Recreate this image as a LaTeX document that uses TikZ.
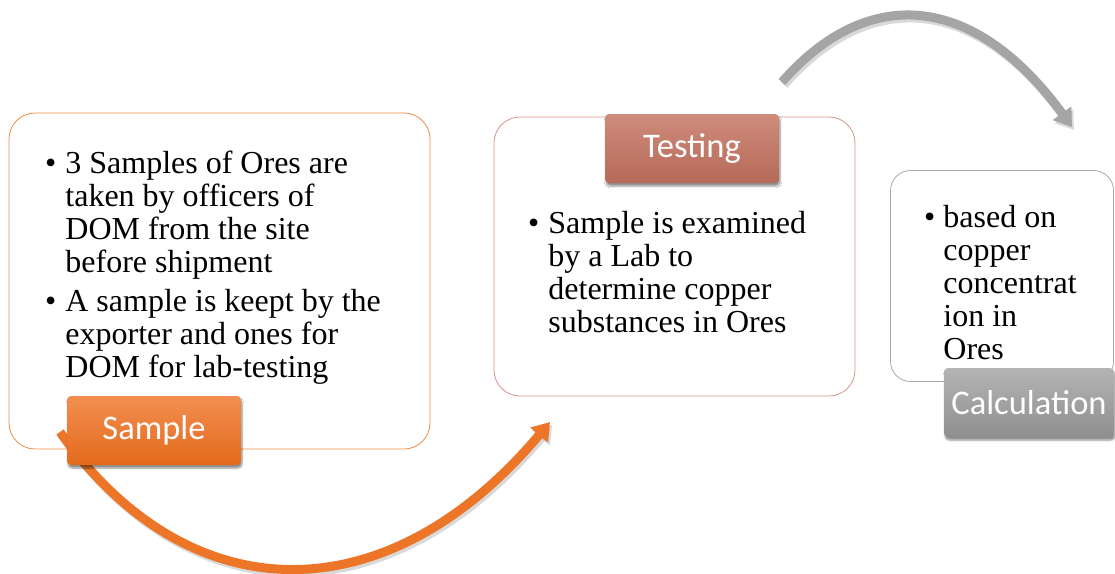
\documentclass[tikz,border=0pt]{standalone}
\usepackage{fontspec}
\setmainfont{Liberation Serif}
\newfontfamily\calibri{Carlito}
\usetikzlibrary{arrows.meta}
\usetikzlibrary{shadows.blur}
\definecolor{smplline}{HTML}{F08C45}
\definecolor{smpltop}{HTML}{F28E50}
\definecolor{smplbot}{HTML}{E46A1C}
\definecolor{tstline}{HTML}{D3978A}
\definecolor{tsttop}{HTML}{CE8B7B}
\definecolor{tstbot}{HTML}{B66A59}
\definecolor{calcline}{HTML}{A8A8A8}
\definecolor{calctop}{HTML}{B4B4B4}
\definecolor{calcbot}{HTML}{8F8F8F}
\definecolor{orangearc}{HTML}{EC7527}
\definecolor{grayarc}{HTML}{A5A5A5}
\tikzset{box/.style = {draw, fill = white, rounded corners = 26pt, line width = 0.8pt, inner sep = 0, outer sep = 0}}
\tikzset{lbl/.style = {rounded corners = 4pt, inner sep = 0, outer sep = 0, minimum height = 69pt, text = white, font = \calibri\fontsize{34.5}{40}\selectfont, blur shadow = {shadow xshift = 1pt, shadow yshift = -3pt, shadow blur steps = 6, shadow opacity = 45}}}
\tikzset{txt/.style = {anchor = base west, inner sep = 0, font = \fontsize{32}{33}\selectfont}}
\tikzset{arcarrow/.style = {line width = 9pt, -{Triangle[width = 22pt, length = 17pt]}}}
\tikzset{arcshadow/.style = {line width = 9pt, black, opacity = 0.15, -{Triangle[width = 22pt, length = 17pt]}}}

\begin{document}
\begin{tikzpicture}[x = 1pt, y = -1pt]

      \useasboundingbox (0, 0) rectangle (1115, 573);

      % boxes
      \node [box, draw = smplline, minimum width = 421pt, minimum height = 336pt] (smpl-box) at (219.5, 281) {};
      \node [box, draw = tstline, minimum width = 361pt, minimum height = 279pt] (tst-box) at (674.5, 256.5) {};
      \node [box, draw = calcline, rounded corners = 20pt, minimum width = 223pt, minimum height = 211pt] (calc-box) at (1002, 276) {};

      % arcs
      \coordinate (smpl-tail) at (60, 432);
      \coordinate (tst-head) at (550, 422);
      \coordinate (tst-tail) at (782, 82);
      \coordinate (calc-head) at (1072, 127);
      \draw [arcshadow, transform canvas = {shift = {(2pt, -3pt)}}] (smpl-tail) .. controls (190, 615) and (388, 615) .. (tst-head);
      \draw [arcarrow, orangearc] (smpl-tail) .. controls (190, 615) and (388, 615) .. (tst-head);
      \draw [arcshadow, transform canvas = {shift = {(2pt, -3pt)}}] (tst-tail) .. controls (866, -14) and (972, -10) .. (calc-head);
      \draw [arcarrow, grayarc] (tst-tail) .. controls (866, -14) and (972, -10) .. (calc-head);

      % labels
      \node [lbl, top color = smpltop, bottom color = smplbot, minimum width = 174pt] (smpl) at (154, 430.5) {Sample};
      \node [lbl, top color = tsttop, bottom color = tstbot, minimum width = 174pt] (tst) at (692, 148.5) {Testing};
      \node [lbl, top color = calctop, bottom color = calcbot, minimum width = 170pt] (calc) at (1029, 402.5) {Calculation};

      % texts
      \node [txt] (smpl-txt) at (45, 173) {\begin{tabular}[t]{@{}l@{\hspace{9pt}}l@{}}
        \textbullet & 3 Samples of Ores are\\
                    & taken by officers of\\
                    & DOM from the site\\
                    & before shipment\\[6pt]
        \textbullet & A sample is keept by the\\
                    & exporter and ones for\\
                    & DOM for lab-testing
      \end{tabular}};
      \node [txt] (tst-txt) at (528, 233) {\begin{tabular}[t]{@{}l@{\hspace{9pt}}l@{}}
        \textbullet & Sample is examined\\
                    & by a Lab to\\
                    & determine copper\\
                    & substances in Ores
      \end{tabular}};
      \node [txt] (calc-txt) at (924, 227) {\begin{tabular}[t]{@{}l@{\hspace{8pt}}l@{}}
        \textbullet & based on\\
                    & copper\\
                    & concentrat\\
                    & ion in\\
                    & Ores
      \end{tabular}};
    \end{tikzpicture}
\end{document}
